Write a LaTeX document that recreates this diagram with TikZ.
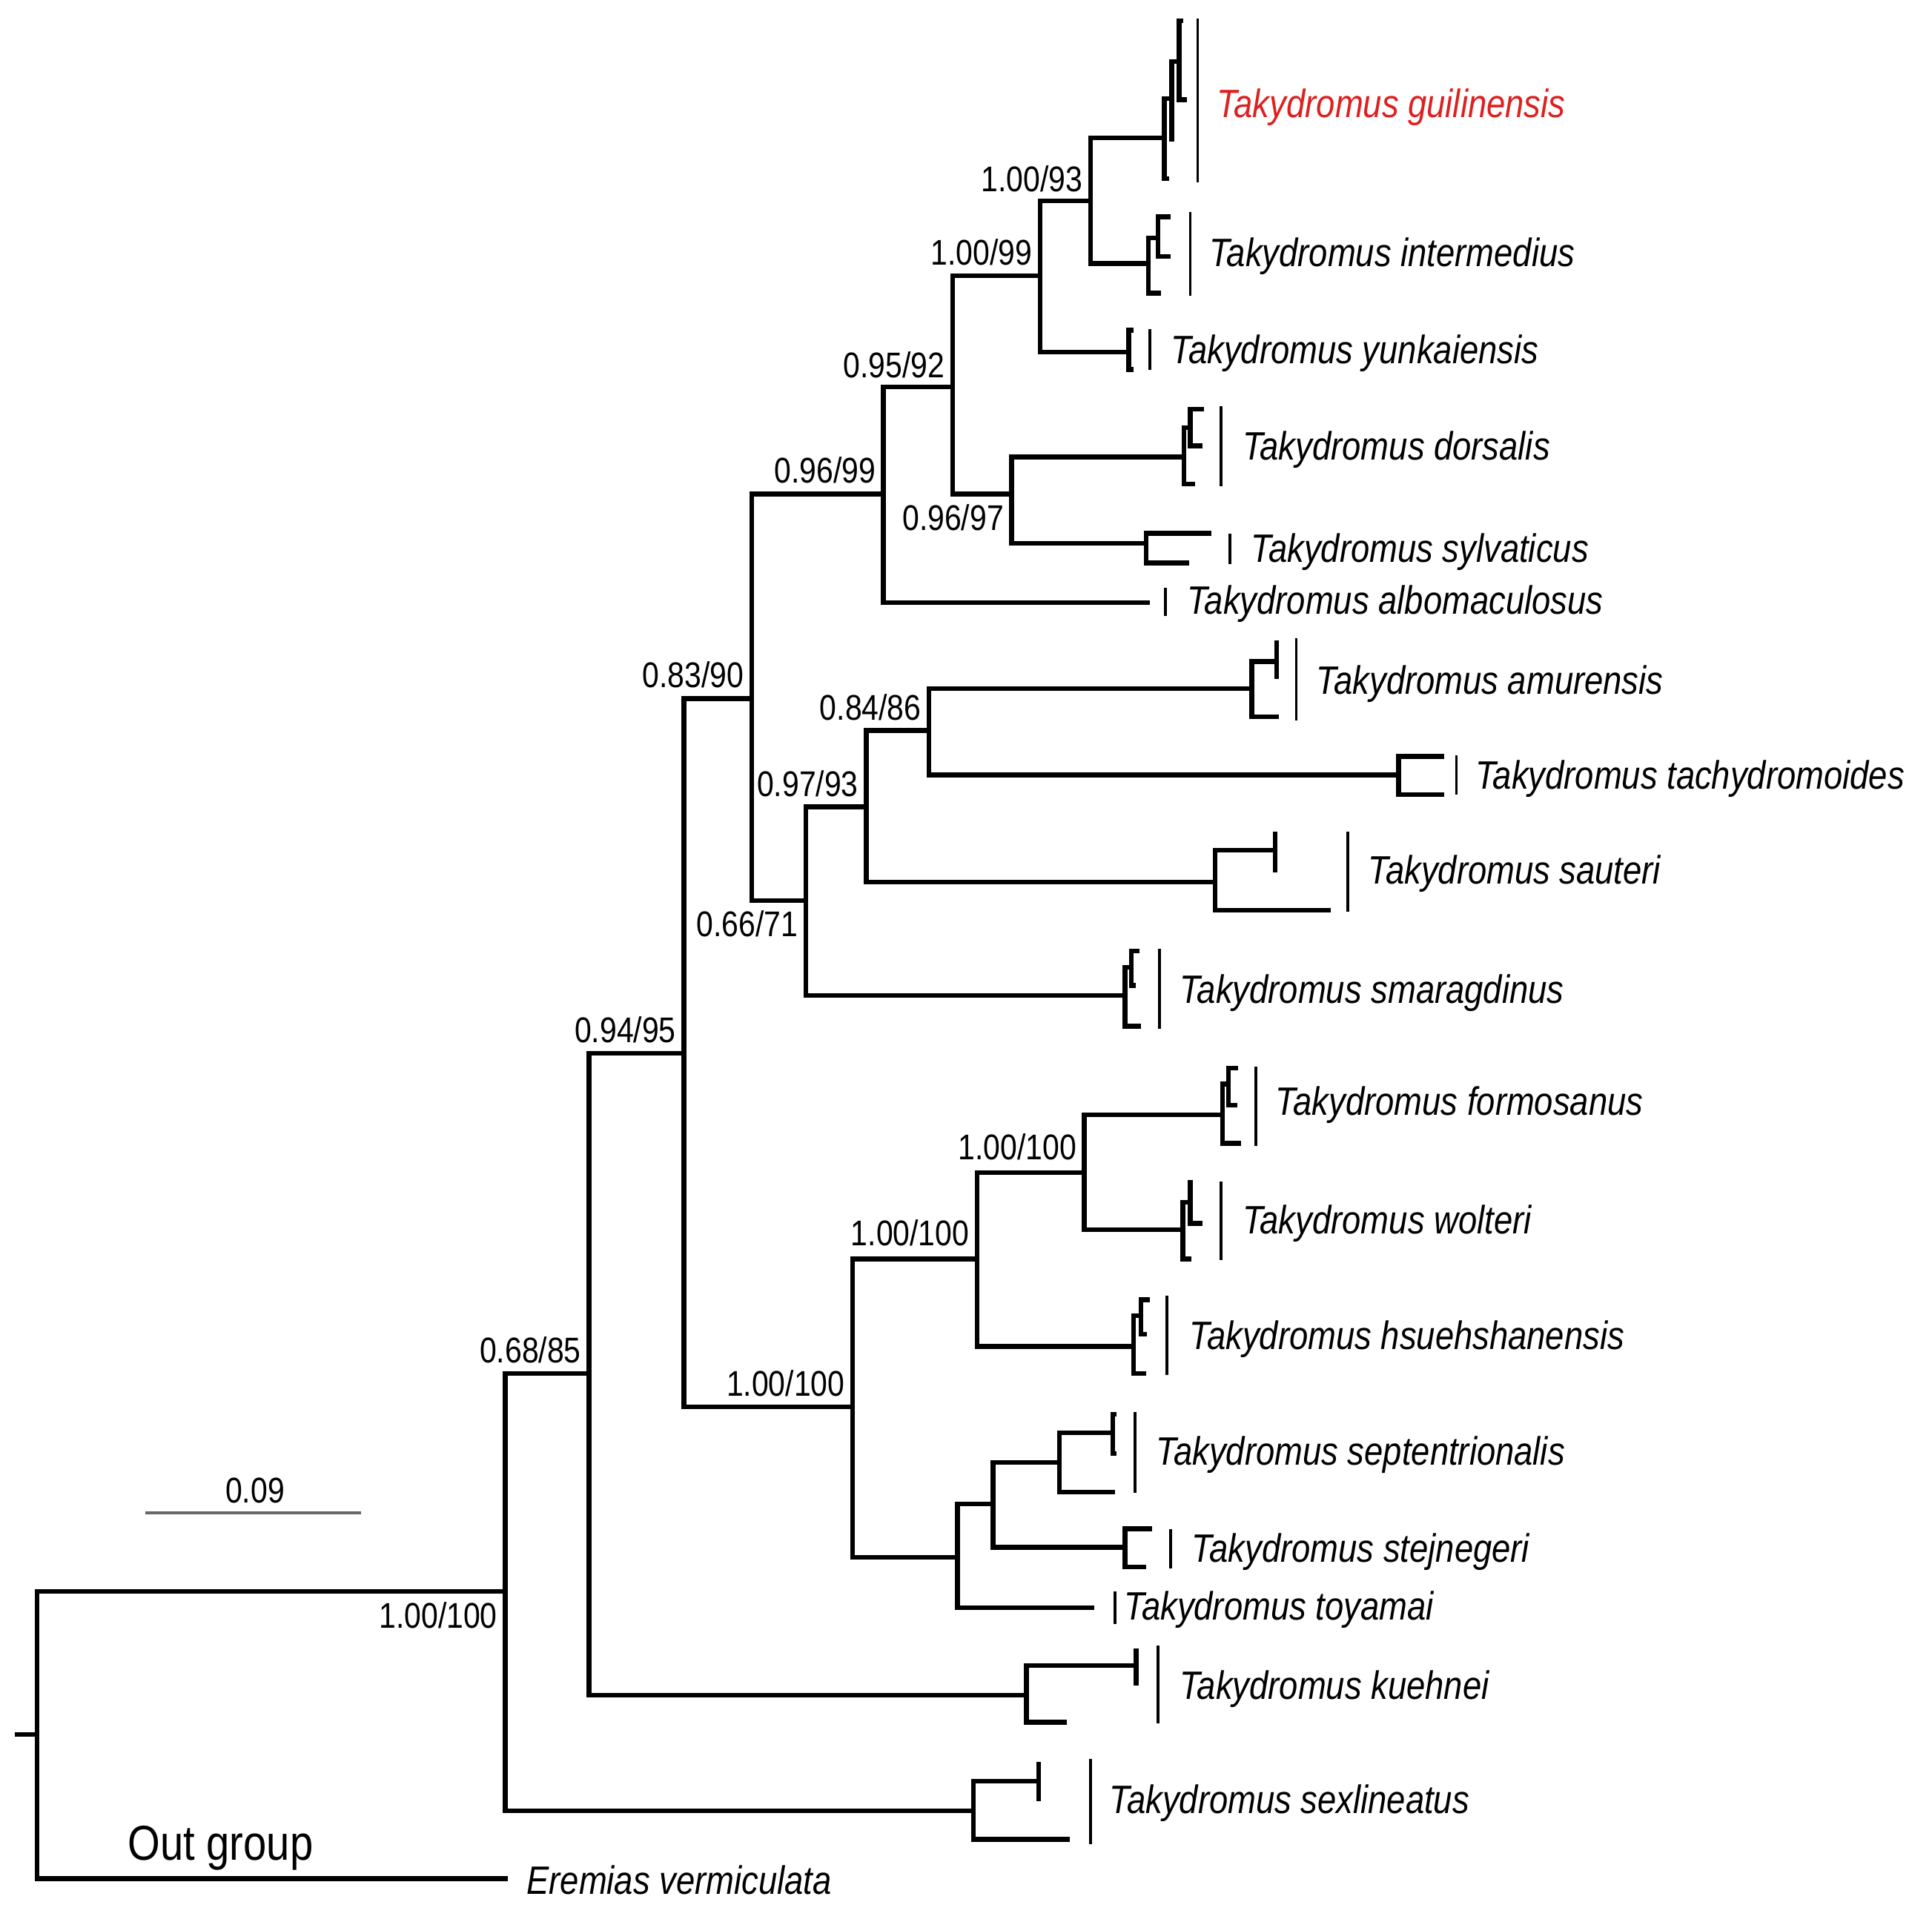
\documentclass[tikz,border=0pt]{standalone}
\usepackage{fontspec}
\usepackage{tikz}
\newfontfamily\treefont[FakeStretch=0.85]{Liberation Sans}
\definecolor{guired}{RGB}{222,32,32}

\begin{document}
\begin{tikzpicture}[x=0.01662cm,y=-0.01662cm,font=\treefont]
\tikzstyle{branch}=[line width=1.8pt,line join=miter]
\tikzstyle{bar}=[line width=1.1pt]
\tikzstyle{support}=[inner sep=0pt,font=\treefont\fontsize{13.7}{16}\selectfont]
\tikzstyle{taxon}=[anchor=west,inner sep=0pt,yshift=-1.4pt,font=\treefont\itshape\fontsize{15.2}{18}\selectfont]
\useasboundingbox (0,0) rectangle (1568,1560);

\coordinate (s0) at (12,1408);
\coordinate (r0) at (30,1408);
\coordinate (ev) at (412,1525);
\coordinate (nA) at (410,1292);
\coordinate (nB) at (478,1115);
\coordinate (nC) at (555,855);
\coordinate (nD) at (610,567);
\coordinate (nE) at (692,1142);
\coordinate (nF) at (717,401);
\coordinate (nG) at (654,731);
\coordinate (nH) at (773,314);
\coordinate (nI) at (844,224);
\coordinate (nJ) at (821,401);
\coordinate (nK) at (885,163);
\coordinate (nL) at (703,655);
\coordinate (nM) at (754,593);
\coordinate (nN) at (793,1022);
\coordinate (nO) at (777,1264);
\coordinate (nP) at (880,952);
\coordinate (nQ) at (806,1221);

\coordinate (gu) at (945,112);
\coordinate (gu1) at (951,80);
\coordinate (gub) at (949,145);
\coordinate (gu2) at (957,50);
\coordinate (gu1b) at (953,113);
\coordinate (gu2a) at (960,17);
\coordinate (gu2b) at (963,81);

\coordinate (in) at (932,214);
\coordinate (in1) at (940,193);
\coordinate (inb) at (942,238);
\coordinate (in1a) at (950,176);
\coordinate (in1b) at (950,208);

\coordinate (yu) at (916,286);
\coordinate (yu1) at (920,268);
\coordinate (yu2) at (920,300);

\coordinate (do) at (961,371);
\coordinate (do1) at (966,347);
\coordinate (dob) at (970,393);
\coordinate (do1a) at (977,332);
\coordinate (do1b) at (976,362);

\coordinate (sy) at (930,441);
\coordinate (sya) at (983,433);
\coordinate (syb) at (965,457);

\coordinate (al) at (933,489);

\coordinate (am) at (1016,559);
\coordinate (am1) at (1036,537);
\coordinate (amb) at (1038,582);
\coordinate (am1a) at (1036,520);
\coordinate (am1b) at (1036,551);

\coordinate (ta) at (1135,629);
\coordinate (taa) at (1172,614);
\coordinate (tab) at (1172,645);

\coordinate (sa) at (986,716);
\coordinate (sa1) at (1035,690);
\coordinate (sab) at (1080,739);
\coordinate (sa1a) at (1035,675);
\coordinate (sa1b) at (1035,708);

\coordinate (sm) at (913,808);
\coordinate (sm1) at (918,785);
\coordinate (smb) at (926,833);
\coordinate (sm1a) at (925,772);
\coordinate (sm1b) at (922,800);

\coordinate (fo) at (992,905);
\coordinate (fo1) at (997,880);
\coordinate (fob) at (1007,928);
\coordinate (fo1a) at (1005,867);
\coordinate (fo1b) at (1004,897);

\coordinate (wo) at (960,998);
\coordinate (wo1) at (966,976);
\coordinate (wob) at (967,1022);
\coordinate (wo1a) at (968,960);
\coordinate (wo1b) at (976,993);

\coordinate (hs) at (920,1093);
\coordinate (hs1) at (926,1068);
\coordinate (hsb) at (930,1115);
\coordinate (hs1a) at (933,1055);
\coordinate (hs1b) at (931,1083);

\coordinate (se) at (860,1187);
\coordinate (se1) at (903,1163);
\coordinate (seb) at (905,1211);
\coordinate (se1a) at (906,1148);
\coordinate (se1b) at (906,1180);

\coordinate (st) at (913,1256);
\coordinate (sta) at (935,1241);
\coordinate (stb) at (930,1272);

\coordinate (to) at (888,1305);

\coordinate (ku) at (833,1376);
\coordinate (ku1) at (922,1352);
\coordinate (ku2) at (866,1398);
\coordinate (ku1a) at (922,1338);
\coordinate (ku1b) at (922,1368);

\coordinate (sx) at (790,1470);
\coordinate (sx1) at (843,1446);
\coordinate (sx2) at (868,1493);
\coordinate (sx1a) at (843,1430);
\coordinate (sx1b) at (843,1462);

\draw[branch] (s0) -- (r0) (r0) |- (nA) (r0) |- (ev);
\draw[branch] (nA) |- (nB) (nA) |- (sx);
\draw[branch] (nB) |- (nC) (nB) |- (ku);
\draw[branch] (nC) |- (nD) (nC) |- (nE);
\draw[branch] (nD) |- (nF) (nD) |- (nG);
\draw[branch] (nF) |- (nH) (nF) |- (al);
\draw[branch] (nH) |- (nI) (nH) |- (nJ);
\draw[branch] (nI) |- (nK) (nI) |- (yu);
\draw[branch] (nK) |- (gu) (nK) |- (in);
\draw[branch] (nJ) |- (do) (nJ) |- (sy);
\draw[branch] (nG) |- (nL) (nG) |- (sm);
\draw[branch] (nL) |- (nM) (nL) |- (sa);
\draw[branch] (nM) |- (am) (nM) |- (ta);
\draw[branch] (nE) |- (nN) (nE) |- (nO);
\draw[branch] (nN) |- (nP) (nN) |- (hs);
\draw[branch] (nP) |- (fo) (nP) |- (wo);
\draw[branch] (nO) |- (nQ) (nO) |- (to);
\draw[branch] (nQ) |- (se) (nQ) |- (st);

\draw[branch] (gu) |- (gu1) (gu) |- (gub) (gu1) |- (gu2) (gu1) |- (gu1b) (gu2) |- (gu2a) (gu2) |- (gu2b);
\draw[branch] (in) |- (in1) (in) |- (inb) (in1) |- (in1a) (in1) |- (in1b);
\draw[branch] (yu) |- (yu1) (yu) |- (yu2);
\draw[branch] (do) |- (do1) (do) |- (dob) (do1) |- (do1a) (do1) |- (do1b);
\draw[branch] (sy) |- (sya) (sy) |- (syb);
\draw[branch] (am) |- (am1) (am) |- (amb) (am1) |- (am1a) (am1) |- (am1b);
\draw[branch] (ta) |- (taa) (ta) |- (tab);
\draw[branch] (sa) |- (sa1) (sa) |- (sab) (sa1) |- (sa1a) (sa1) |- (sa1b);
\draw[branch] (sm) |- (sm1) (sm) |- (smb) (sm1) |- (sm1a) (sm1) |- (sm1b);
\draw[branch] (fo) |- (fo1) (fo) |- (fob) (fo1) |- (fo1a) (fo1) |- (fo1b);
\draw[branch] (wo) |- (wo1) (wo) |- (wob) (wo1) |- (wo1a) (wo1) |- (wo1b);
\draw[branch] (hs) |- (hs1) (hs) |- (hsb) (hs1) |- (hs1a) (hs1) |- (hs1b);
\draw[branch] (se) |- (se1) (se) |- (seb) (se1) |- (se1a) (se1) |- (se1b);
\draw[branch] (st) |- (sta) (st) |- (stb);
\draw[branch] (ku) |- (ku1) (ku) |- (ku2) (ku1) |- (ku1a) (ku1) |- (ku1b);
\draw[branch] (sx) |- (sx1) (sx) |- (sx2) (sx1) |- (sx1a) (sx1) |- (sx1b);

\draw[bar] (972,15) -- (972,148);
\draw[bar] (966,172) -- (966,240);
\draw[bar] (933,267) -- (933,300);
\draw[bar] (991,330) -- (991,395);
\draw[bar] (998,433) -- (998,458);
\draw[bar] (946,477) -- (946,500);
\draw[bar] (1052,518) -- (1052,585);
\draw[bar] (1182,613) -- (1182,645);
\draw[bar] (1094,675) -- (1094,740);
\draw[bar] (941,770) -- (941,835);
\draw[bar] (1019,866) -- (1019,930);
\draw[bar] (991,959) -- (991,1023);
\draw[bar] (947,1052) -- (947,1116);
\draw[bar] (921,1146) -- (921,1212);
\draw[bar] (950,1241) -- (950,1273);
\draw[bar] (905,1292) -- (905,1318);
\draw[bar] (940,1336) -- (940,1399);
\draw[bar] (885,1428) -- (885,1497);

\node[support,anchor=north east] (bsA) at ([shift={(-6,8)}]nA) {1.00/100};
\node[support,anchor=south east] (bsB) at ([shift={(-6,-8)}]nB) {0.68/85};
\node[support,anchor=south east] (bsC) at ([shift={(-6,-8)}]nC) {0.94/95};
\node[support,anchor=south east] (bsD) at ([shift={(-6,-8)}]nD) {0.83/90};
\node[support,anchor=south east] (bsE) at ([shift={(-6,-8)}]nE) {1.00/100};
\node[support,anchor=south east] (bsF) at ([shift={(-6,-8)}]nF) {0.96/99};
\node[support,anchor=north east] (bsG) at ([shift={(-6,8)}]nG) {0.66/71};
\node[support,anchor=south east] (bsH) at ([shift={(-6,-7)}]nH) {0.95/92};
\node[support,anchor=south east] (bsI) at ([shift={(-6,-8)}]nI) {1.00/99};
\node[support,anchor=north east] (bsJ) at ([shift={(-6,8)}]nJ) {0.96/97};
\node[support,anchor=south east] (bsK) at ([shift={(-6,-7)}]nK) {1.00/93};
\node[support,anchor=south east] (bsL) at ([shift={(-6,-8)}]nL) {0.97/93};
\node[support,anchor=south east] (bsM) at ([shift={(-6,-8)}]nM) {0.84/86};
\node[support,anchor=south east] (bsN) at ([shift={(-6,-10)}]nN) {1.00/100};
\node[support,anchor=south east] (bsP) at ([shift={(-6,-10)}]nP) {1.00/100};

\node[taxon,text=guired] (tgu) at (987,84) {Takydromus guilinensis};
\node[taxon] (tin) at (981,205) {Takydromus intermedius};
\node[taxon] (tyu) at (950,284) {Takydromus yunkaiensis};
\node[taxon] (tdo) at (1008,362) {Takydromus dorsalis};
\node[taxon] (tsy) at (1015,445) {Takydromus sylvaticus};
\node[taxon] (tal) at (963,487) {Takydromus albomaculosus};
\node[taxon] (tam) at (1068,552) {Takydromus amurensis};
\node[taxon] (tta) at (1197,629) {Takydromus tachydromoides};
\node[taxon] (tsa) at (1110,706) {Takydromus sauteri};
\node[taxon] (tsm) at (957,803) {Takydromus smaragdinus};
\node[taxon] (tfo) at (1035,894) {Takydromus formosanus};
\node[taxon] (two) at (1008,990) {Takydromus wolteri};
\node[taxon] (ths) at (965,1084) {Takydromus hsuehshanensis};
\node[taxon] (tse) at (938,1178) {Takydromus septentrionalis};
\node[taxon] (tst) at (967,1257) {Takydromus stejnegeri};
\node[taxon] (tto) at (912,1304) {Takydromus toyamai};
\node[taxon] (tku) at (957,1368) {Takydromus kuehnei};
\node[taxon] (tsx) at (900,1461) {Takydromus sexlineatus};
\node[taxon] (tev) at (427,1523) {Eremias vermiculata};

\node[font=\treefont\fontsize{18.8}{22}\selectfont] (og) at (179,1500) {Out group};

\coordinate (sb1) at (118,1228);
\coordinate (sb2) at (293,1228);
\draw[line width=1pt,black!60] (sb1) -- (sb2);
\node[support] (sbl) at (207,1210) {0.09};
\end{tikzpicture}
\end{document}
